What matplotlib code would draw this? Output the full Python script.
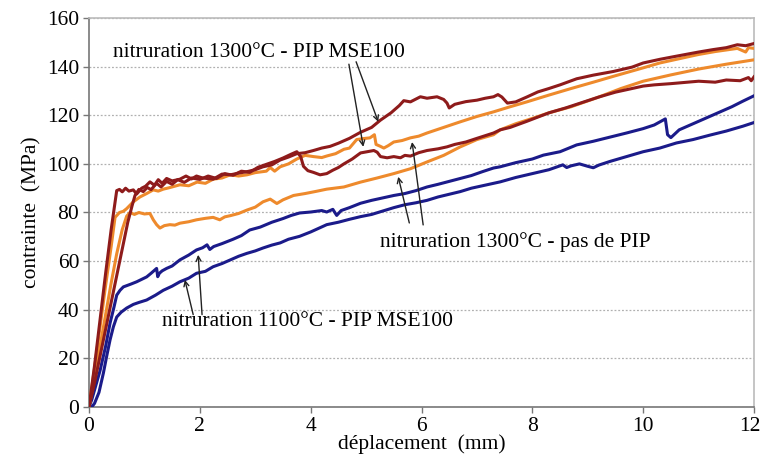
import matplotlib
matplotlib.use("Agg")
import matplotlib.pyplot as plt
import matplotlib.transforms as mtransforms

# ---------------- data ----------------
x_dr_a = [0, 0.1, 0.2, 0.3, 0.4, 0.5, 0.55, 0.6, 0.66, 0.72, 0.8, 0.86, 0.95, 1.02, 1.1, 1.18, 1.25, 1.32,
          1.4, 1.5, 1.64, 1.75, 1.85, 1.94, 2.05, 2.24, 2.4, 2.55, 2.7, 2.85, 3.0, 3.14, 3.3, 3.45, 3.6,
          3.75, 3.9, 4.05, 4.2, 4.35, 4.5, 4.7, 4.9, 5.1, 5.26, 5.45, 5.6, 5.68, 5.8, 5.98, 6.1, 6.28,
          6.4, 6.46, 6.5, 6.6, 6.8, 7.0, 7.15, 7.3, 7.38, 7.45, 7.55, 7.7, 7.9, 8.1, 8.3, 8.5, 8.8,
          9.1, 9.46, 9.8, 10.0, 10.3, 10.6, 11.0, 11.26, 11.5, 11.7, 11.85, 12.0]
y_dr_a = [0, 17, 36, 55, 73, 89, 89.5, 88.5, 90, 88.8, 89.3, 87.6, 90, 90.8, 92.6, 91.2, 93.5, 92,
          94, 93, 93.7, 95, 93.8, 95, 94.2, 93.7, 95.8, 95.5, 96.2, 96.8, 97.6, 98.8, 99.6, 101.6, 102.8,
          104.2, 104.6, 105.5, 106.5, 107.2, 108.5, 110.5, 113, 115, 118, 121, 124, 126, 125.5, 127.6, 127, 127.6,
          126.5, 125, 123, 124.5, 125.6, 126.2, 127, 127.6, 128.5, 127.5, 125, 125.5, 127.5, 129.6, 131, 132.5, 135,
          136.5, 138, 139.8, 141.5, 143, 144.3, 146, 147, 147.8, 149, 148.6, 149.5]

x_dr_b = [0, 0.1, 0.2, 0.3, 0.4, 0.5, 0.6, 0.7, 0.78, 0.83, 0.9, 0.98, 1.05, 1.12, 1.22, 1.3, 1.4, 1.5,
          1.6, 1.72, 1.85, 2.0, 2.15, 2.3, 2.45, 2.6, 2.75, 2.9, 3.05, 3.2, 3.35, 3.5, 3.65, 3.75, 3.82,
          3.87, 3.95, 4.05, 4.17, 4.29, 4.4, 4.5, 4.6, 4.75, 4.9, 5.02, 5.14, 5.2, 5.26, 5.38, 5.5, 5.62,
          5.7, 5.8, 5.95, 6.1, 6.3, 6.46, 6.6, 6.8, 7.0, 7.3, 7.42, 7.6, 7.9, 8.3, 8.6, 9.0, 9.2, 9.5,
          9.8, 10.0, 10.2, 10.5, 10.75, 11.0, 11.3, 11.5, 11.75, 11.9, 11.95, 12.0]
y_dr_b = [0, 10, 21, 32, 43, 54, 65, 76, 83, 87, 89.5, 88.6, 90.3, 89.4, 92, 90.5, 92.8, 91.6,
          93.5, 92.4, 94.2, 93.6, 95, 94, 96, 95.3, 97, 96.5, 98.6, 99.8, 101, 102.4, 104, 105, 103,
          99, 97.2, 96.5, 95.5, 96, 97.4, 98.5, 100, 102, 104.5, 105, 105.5, 104.8, 103, 102.5, 103, 102.5,
          103.5, 103.2, 104.6, 105.5, 106.2, 107, 108, 109, 110.5, 112.7, 114, 115, 117.5, 121, 123, 126, 127.5, 129.5,
          131, 132, 132.5, 133, 133.5, 134, 133.6, 134.5, 134.2, 135.5, 134.2, 135.8]

x_or_a = [0, 0.1, 0.2, 0.3, 0.4, 0.47, 0.55, 0.62, 0.68, 0.8, 0.92, 1.04, 1.16, 1.25, 1.34, 1.45, 1.64,
          1.8, 1.95, 2.1, 2.24, 2.4, 2.55, 2.7, 2.85, 3.0, 3.2, 3.27, 3.35, 3.45, 3.6, 3.75, 3.9, 4.05,
          4.2, 4.3, 4.45, 4.6, 4.7, 4.83, 4.95, 5.07, 5.15, 5.18, 5.25, 5.32, 5.4, 5.5, 5.65, 5.8, 5.95,
          6.1, 6.4, 6.7, 7.0, 7.3, 7.6, 7.9, 8.3, 8.7, 9.1, 9.46, 9.8, 10.0, 10.3, 10.6, 11.0, 11.3,
          11.7, 11.85, 11.9, 12.0]
y_or_a = [0, 16, 33, 50, 66, 78, 80, 80.5, 81.6, 84.4, 86.4, 87.8, 89.3, 88.8, 89.6, 90.2, 91.4,
          91, 92.5, 92, 93.7, 94.2, 95.5, 95, 95.5, 96.4, 97, 98.5, 97, 98.8, 100, 102, 103.5, 103,
          102.6, 103.3, 104.2, 106, 106.5, 110, 110.4, 110.7, 112, 108, 107.3, 106.5, 107.5, 109, 109.6, 110.7, 111.4,
          112.7, 115, 117.3, 119.5, 121.4, 123.5, 125.5, 128.3, 131, 133.6, 136, 138.2, 139.5, 141.5, 143, 145, 146.2,
          147.5, 146, 147.8, 147.5]

x_or_b = [0, 0.1, 0.2, 0.3, 0.4, 0.5, 0.6, 0.68, 0.74, 0.82, 0.9, 1.0, 1.1, 1.16, 1.22, 1.28, 1.36, 1.46,
          1.55, 1.64, 1.8, 1.94, 2.1, 2.24, 2.36, 2.45, 2.55, 2.7, 2.85, 3.0, 3.14, 3.27, 3.39, 3.5, 3.69,
          3.9, 4.1, 4.29, 4.6, 4.9, 5.2, 5.5, 5.8, 6.1, 6.4, 6.7, 7.0, 7.3, 7.42, 7.7, 8.0, 8.3, 8.7,
          9.2, 9.6, 10.0, 10.5, 11.0, 11.5, 12.0]
y_or_b = [0, 12, 25, 38, 51, 63, 73, 78.5, 80, 79.2, 80, 79.4, 79.6, 77, 75, 73.6, 74.6, 75,
          74.8, 75.6, 76.2, 77, 77.6, 78, 77, 78.2, 78.7, 79.6, 81, 82.2, 84.4, 85.5, 83.7, 85.2, 87,
          87.8, 88.7, 89.6, 90.5, 92.5, 94.2, 96, 98, 100.8, 103.5, 107, 110, 112, 114, 116.5, 118.7, 121, 123.5,
          127.5, 131, 134, 136.6, 139, 141, 142.8]

x_nv_a = [0, 0.05, 0.1, 0.2, 0.3, 0.38, 0.45, 0.5, 0.56, 0.62, 0.75, 0.86, 0.95, 1.04, 1.12, 1.22, 1.24,
          1.27, 1.32, 1.4, 1.5, 1.64, 1.8, 1.94, 2.05, 2.13, 2.18, 2.25, 2.4, 2.6, 2.75, 2.9, 3.09, 3.3,
          3.5, 3.65, 3.8, 4.0, 4.2, 4.29, 4.4, 4.47, 4.55, 4.7, 4.9, 5.1, 5.3, 5.5, 5.7, 5.9, 6.1, 6.3,
          6.5, 6.7, 6.9, 7.1, 7.3, 7.42, 7.7, 8.0, 8.2, 8.5, 8.8, 9.1, 9.4, 9.7, 10.0, 10.2, 10.4, 10.44,
          10.5, 10.58, 10.65, 10.8, 11.0, 11.2, 11.4, 11.6, 11.8, 12.0]
y_nv_a = [0, 3, 7, 15, 25, 34.5, 41, 46, 48, 49.4, 50.5, 51.5, 52.5, 53.5, 55, 57, 53.6,
          55, 56, 57, 58, 60.5, 62.5, 64.6, 65.5, 66.7, 64.8, 66, 67.2, 69, 70.5, 72.8, 74, 76,
          77.5, 78.8, 79.8, 80.2, 80.8, 80.2, 81.3, 78.8, 80.8, 82, 83.8, 85, 86, 87, 87.8, 89, 90.5, 91.6,
          92.8, 94, 95.2, 96.8, 98.3, 98.8, 100.5, 102, 103.6, 105, 107.8, 109.3, 111, 112.7, 114.5, 116, 118.5, 112,
          110.8, 112.5, 114, 115.5, 117.5, 119.5, 121.5, 123.5, 125.8, 128]

x_nv_b = [0, 0.05, 0.1, 0.18, 0.26, 0.32, 0.38, 0.44, 0.5, 0.58, 0.68, 0.8, 0.9, 1.04, 1.2, 1.34, 1.5,
          1.64, 1.8, 1.94, 2.1, 2.24, 2.4, 2.55, 2.7, 2.85, 3.0, 3.14, 3.3, 3.45, 3.6, 3.8, 4.0, 4.29,
          4.5, 4.7, 4.9, 5.1, 5.3, 5.5, 5.7, 5.9, 6.1, 6.3, 6.5, 6.7, 6.9, 7.1, 7.3, 7.42, 7.7, 8.0,
          8.3, 8.55, 8.62, 8.7, 8.85, 9.0, 9.1, 9.2, 9.4, 9.7, 10.0, 10.3, 10.6, 10.9, 11.2, 11.5, 11.8, 12.0]
y_nv_b = [0, 0, 1.5, 6, 14, 21, 27.6, 33, 37, 39, 40.7, 42.2, 43, 44, 46, 48, 49.7,
          51.5, 53, 55, 55.8, 57.7, 59, 60.5, 62, 63.2, 64.2, 65.4, 66.6, 67.5, 69, 70.2, 72, 75,
          76, 77.2, 78.3, 79.2, 80.6, 82, 83.2, 84, 85, 86.4, 87.5, 88.6, 90, 91, 92, 92.6, 94.4, 96,
          97.6, 99.6, 98.5, 99.2, 100, 99, 98.4, 99.5, 101, 103, 105, 106.5, 108.6, 110, 111.8, 113.5, 115.5, 117]

x_ticks = [0, 2, 4, 6, 8, 10, 12]
y_ticks = [0, 20, 40, 60, 80, 100, 120, 140, 160]

label_1300_pip = "nitruration 1300°C - PIP MSE100"
label_1300_nopip = "nitruration 1300°C - pas de PIP"
label_1100_pip = "nitruration 1100°C - PIP MSE100"

# ---------------- style ----------------
DARKRED = "#8E1B1B"
ORANGE = "#EE8A2C"
NAVY = "#1B1B8A"
SERIF = ["Liberation Serif", "DejaVu Serif"]

fig = plt.figure(figsize=(7.63, 4.57), dpi=100)
ax = fig.add_axes([89 / 763, 1 - 407 / 457, (754 - 89) / 763, (407 - 18) / 457])

lw = 2.2
ax.plot(x_nv_b, y_nv_b, color=NAVY, lw=lw, zorder=3)
ax.plot(x_nv_a, y_nv_a, color=NAVY, lw=lw, zorder=3)
ax.plot(x_or_b, y_or_b, color=ORANGE, lw=lw, zorder=4)
ax.plot(x_or_a, y_or_a, color=ORANGE, lw=lw, zorder=4)
ax.plot(x_dr_b, y_dr_b, color=DARKRED, lw=lw, zorder=5)
ax.plot(x_dr_a, y_dr_a, color=DARKRED, lw=lw, zorder=5)

ax.set_xlim(0, 12)
ax.set_ylim(0, 160)
ax.set_xticks(x_ticks)
ax.set_yticks(y_ticks)
ax.set_xticklabels([str(v) for v in x_ticks], fontfamily=SERIF, fontsize=15.5)
ax.set_yticklabels([str(v) for v in y_ticks], fontfamily=SERIF, fontsize=15.5)
ax.tick_params(axis="both", direction="out", length=4, width=1, color="#777777", pad=3)

# keep the last x tick label inside the figure edge
last = ax.get_xticklabels()[-1]
last.set_transform(last.get_transform() + mtransforms.ScaledTranslation(-4 / 100, 0, fig.dpi_scale_trans))

ax.grid(axis="y", color="#B0B0B0", lw=0.9, ls=(0, (1.5, 1.5)), zorder=1)
ax.set_axisbelow(True)
for s in ["top", "right"]:
    ax.spines[s].set_color("#BBBBBB")
    ax.spines[s].set_linewidth(1.2)
for s in ["left", "bottom"]:
    ax.spines[s].set_color("#777777")
    ax.spines[s].set_linewidth(1.2)

ax.set_xlabel("déplacement  (mm)", fontfamily=SERIF, fontsize=15.5, labelpad=-1)
ax.set_ylabel("contrainte  (MPa)", fontfamily=SERIF, fontsize=15.5, labelpad=4)

# annotations
arrow_kw = dict(arrowstyle="->", color="#222222", lw=1.0, shrinkA=0, shrinkB=0,
                mutation_scale=9)
ax.text(0.43, 146, label_1300_pip, fontfamily=SERIF, fontsize=15.5, va="center", ha="left", zorder=6)
ax.annotate("", xy=(4.95, 107), xytext=(4.69, 141), arrowprops=arrow_kw, zorder=6)
ax.annotate("", xy=(5.22, 117.3), xytext=(4.82, 142), arrowprops=arrow_kw, zorder=6)

ax.text(5.25, 68, label_1300_nopip, fontfamily=SERIF, fontsize=15.5, va="center", ha="left", zorder=6)
ax.annotate("", xy=(5.58, 94.7), xytext=(5.78, 75.7), arrowprops=arrow_kw, zorder=6)
ax.annotate("", xy=(5.83, 109), xytext=(6.03, 74.9), arrowprops=arrow_kw, zorder=6)

ax.text(1.32, 35, label_1100_pip, fontfamily=SERIF, fontsize=15.5, va="center", ha="left", zorder=6)
ax.annotate("", xy=(1.73, 52.3), xytext=(1.88, 38.0), arrowprops=arrow_kw, zorder=6)
ax.annotate("", xy=(1.97, 62.6), xytext=(2.04, 38.0), arrowprops=arrow_kw, zorder=6)

fig.savefig("out.png", dpi=100)
